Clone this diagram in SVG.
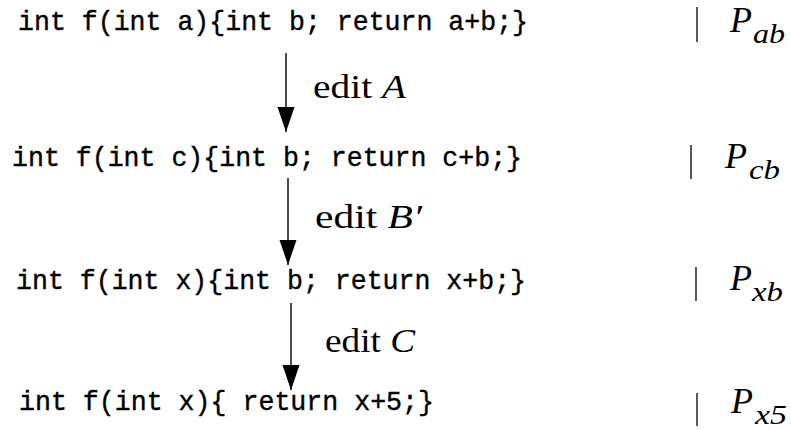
<svg xmlns="http://www.w3.org/2000/svg" width="791" height="430" viewBox="0 0 791 430">
  <style>
    .code { font-family: "Liberation Mono", "DejaVu Sans Mono", monospace; font-size: 28px; fill: #000; stroke: #000; stroke-width: 0.4; }
    .lbl { font-family: "Liberation Serif", "DejaVu Serif", serif; font-size: 34px; fill: #000; }
    .m { font-family: "Liberation Serif", "DejaVu Serif", serif; font-style: italic; fill: #000; }
    .P { font-size: 36px; }
    .sub { font-size: 27px; }
    .bar { stroke: #000; stroke-width: 1.3; }
    .edge { stroke: #000; stroke-width: 1.4; fill: none; marker-end: url(#head); }
  </style>
  <defs>
    <marker id="head" markerUnits="userSpaceOnUse" markerWidth="26" markerHeight="18" refX="25" refY="8.5" orient="auto">
      <path d="M0,0 L25,8.5 L0,17 Z" fill="#000"/>
    </marker>
  </defs>

  <rect width="791" height="430" fill="#fff"/>

  <g id="prog-ab">
    <text class="code" x="18" y="30" textLength="510" lengthAdjust="spacingAndGlyphs" xml:space="preserve">int f(int a){int b; return a+b;}</text>
    <line class="bar" x1="697" y1="7" x2="697" y2="42"/>
    <text class="m P" x="730" y="32">P</text>
    <text class="m sub" x="753" y="43" textLength="32" lengthAdjust="spacingAndGlyphs">ab</text>
  </g>

  <g id="prog-cb">
    <text class="code" x="12" y="166" textLength="510" lengthAdjust="spacingAndGlyphs" xml:space="preserve">int f(int c){int b; return c+b;}</text>
    <line class="bar" x1="691" y1="145" x2="691" y2="179"/>
    <text class="m P" x="725" y="168">P</text>
    <text class="m sub" x="749" y="179" textLength="31" lengthAdjust="spacingAndGlyphs">cb</text>
  </g>

  <g id="prog-xb">
    <text class="code" x="16" y="289" textLength="510" lengthAdjust="spacingAndGlyphs" xml:space="preserve">int f(int x){int b; return x+b;}</text>
    <line class="bar" x1="696" y1="267" x2="696" y2="301"/>
    <text class="m P" x="730" y="290">P</text>
    <text class="m sub" x="752" y="301" textLength="31" lengthAdjust="spacingAndGlyphs">xb</text>
  </g>

  <g id="prog-x5">
    <text class="code" x="19" y="410" textLength="415" lengthAdjust="spacingAndGlyphs" xml:space="preserve">int f(int x){ return x+5;}</text>
    <line class="bar" x1="697" y1="393" x2="697" y2="426"/>
    <text class="m P" x="731" y="413">P</text>
    <text class="m sub" x="755" y="424" textLength="32" lengthAdjust="spacingAndGlyphs">x5</text>
  </g>

  <g id="connectors">
    <line class="edge" x1="286" y1="53" x2="286" y2="132"/>
    <line class="edge" x1="288" y1="178" x2="288" y2="265"/>
    <line class="edge" x1="291" y1="303" x2="291" y2="390"/>
    <text class="lbl" x="313" y="98" textLength="93" lengthAdjust="spacingAndGlyphs">edit <tspan class="m">A</tspan></text>
    <text class="lbl" x="315" y="228" textLength="107" lengthAdjust="spacingAndGlyphs">edit <tspan class="m">B′</tspan></text>
    <text class="lbl" x="325" y="352" textLength="90" lengthAdjust="spacingAndGlyphs">edit <tspan class="m">C</tspan></text>
  </g>
</svg>
